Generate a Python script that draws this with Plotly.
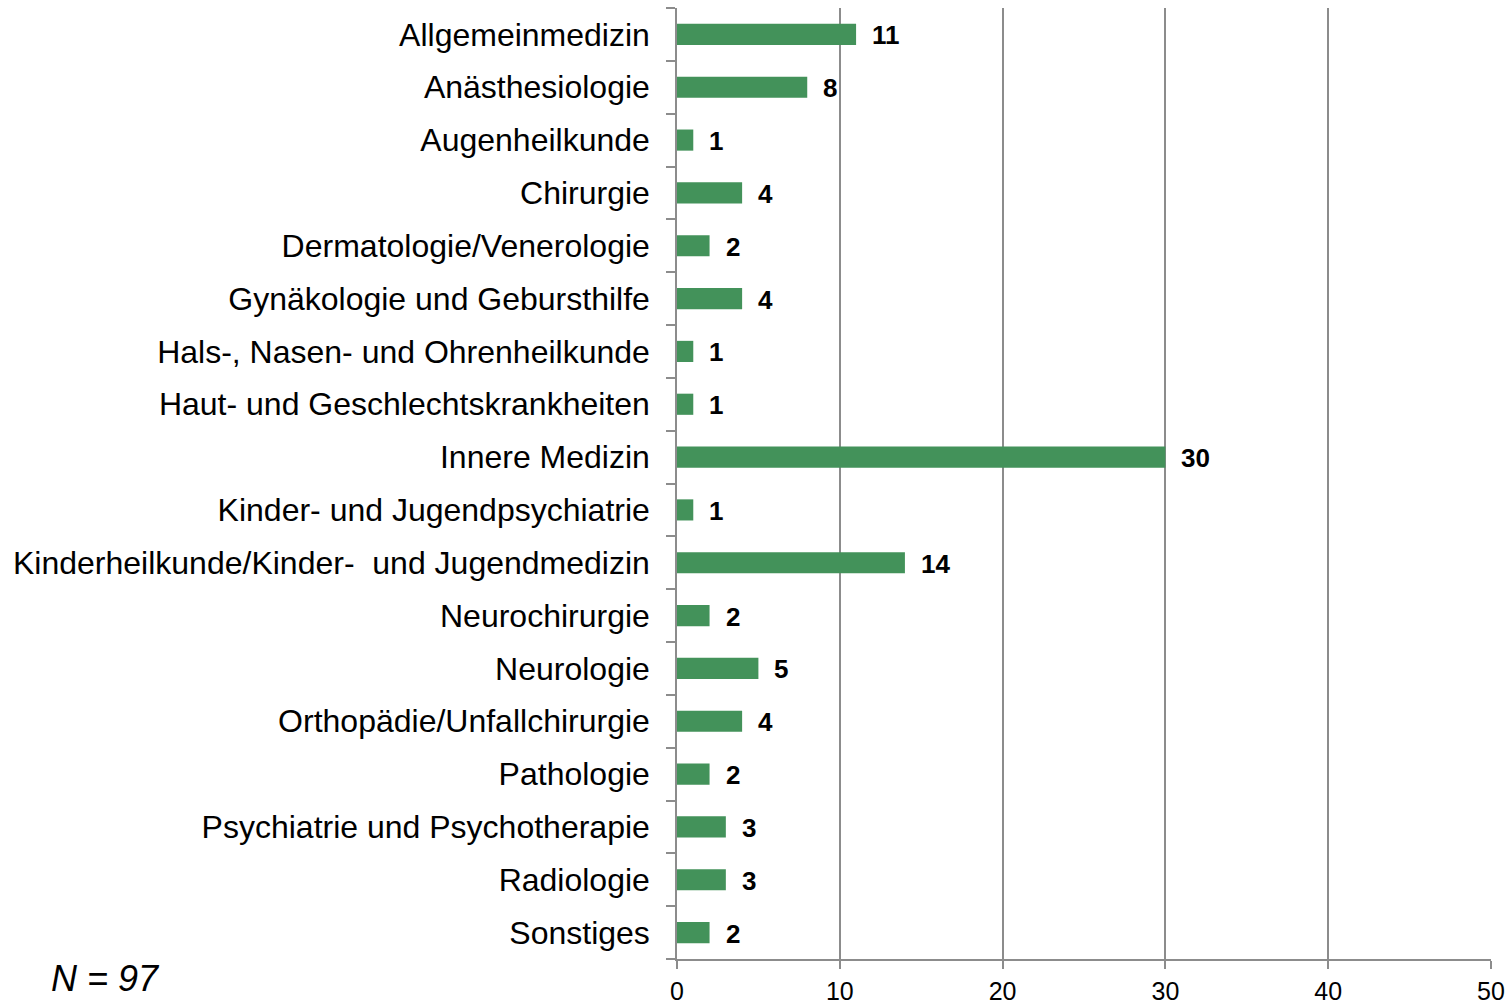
import plotly.graph_objects as go

# Fachrichtungen und Anzahl der Nennungen
categories = [
    "Allgemeinmedizin",
    "Anästhesiologie",
    "Augenheilkunde",
    "Chirurgie",
    "Dermatologie/Venerologie",
    "Gynäkologie und Gebursthilfe",
    "Hals-, Nasen- und Ohrenheilkunde",
    "Haut- und Geschlechtskrankheiten",
    "Innere Medizin",
    "Kinder- und Jugendpsychiatrie",
    "Kinderheilkunde/Kinder-  und Jugendmedizin",
    "Neurochirurgie",
    "Neurologie",
    "Orthopädie/Unfallchirurgie",
    "Pathologie",
    "Psychiatrie und Psychotherapie",
    "Radiologie",
    "Sonstiges",
]
counts = [11, 8, 1, 4, 2, 4, 1, 1, 30, 1, 14, 2, 5, 4, 2, 3, 3, 2]
x_ticks = [0, 10, 20, 30, 40, 50]
total_label = "N = 97"

bar_color = "#43925A"
grid_color = "#8C8C8C"
font_family = "Liberation Sans, Arial, sans-serif"

fig = go.Figure(
    go.Bar(
        x=counts,
        y=categories,
        orientation="h",
        marker=dict(color=bar_color, line=dict(width=0)),
        width=0.4,
        hoverinfo="x+y",
    )
)

# Wertbeschriftungen rechts neben den Balken
for cat, val in zip(categories, counts):
    fig.add_annotation(
        x=val, y=cat, text=f"<b>{val}</b>", showarrow=False,
        xanchor="left", yanchor="middle", xshift=14, yshift=-1,
        font=dict(family=font_family, size=26, color="#000000"),
    )

# Stichprobengröße unten links
fig.add_annotation(
    x=0, y=0, xref="paper", yref="paper", text=f"<i>{total_label}</i>",
    showarrow=False, xanchor="left", yanchor="middle",
    xshift=-628, yshift=-19,
    font=dict(family=font_family, size=36, color="#000000"),
)

fig.update_layout(
    width=1512, height=1000,
    margin=dict(l=677, r=21, t=8, b=41, autoexpand=False),
    paper_bgcolor="white", plot_bgcolor="white",
    showlegend=False,
    bargap=0.6,
    font=dict(family=font_family, color="#000000"),
)

fig.update_xaxes(
    range=[0, 50], tickvals=x_ticks, ticktext=[str(t) for t in x_ticks],
    showgrid=True, gridcolor=grid_color, gridwidth=1.5,
    showline=True, linecolor=grid_color, linewidth=1.5,
    ticks="outside", ticklen=8, tickcolor=grid_color, tickwidth=1.5,
    ticklabelstandoff=1,
    tickfont=dict(family=font_family, size=25, color="#000000"),
    zeroline=False, fixedrange=True, automargin=False,
)
fig.update_yaxes(
    categoryorder="array", categoryarray=categories[::-1],
    range=[-0.5, len(categories) - 0.5],
    showgrid=False,
    showline=True, linecolor=grid_color, linewidth=1.5,
    ticks="outside", ticklen=9, tickcolor=grid_color, tickwidth=1.5,
    tickson="boundaries",
    ticklabelstandoff=19,
    tickfont=dict(family=font_family, size=32, color="#000000"),
    fixedrange=True, automargin=False,
)

fig.write_html("out.html")
